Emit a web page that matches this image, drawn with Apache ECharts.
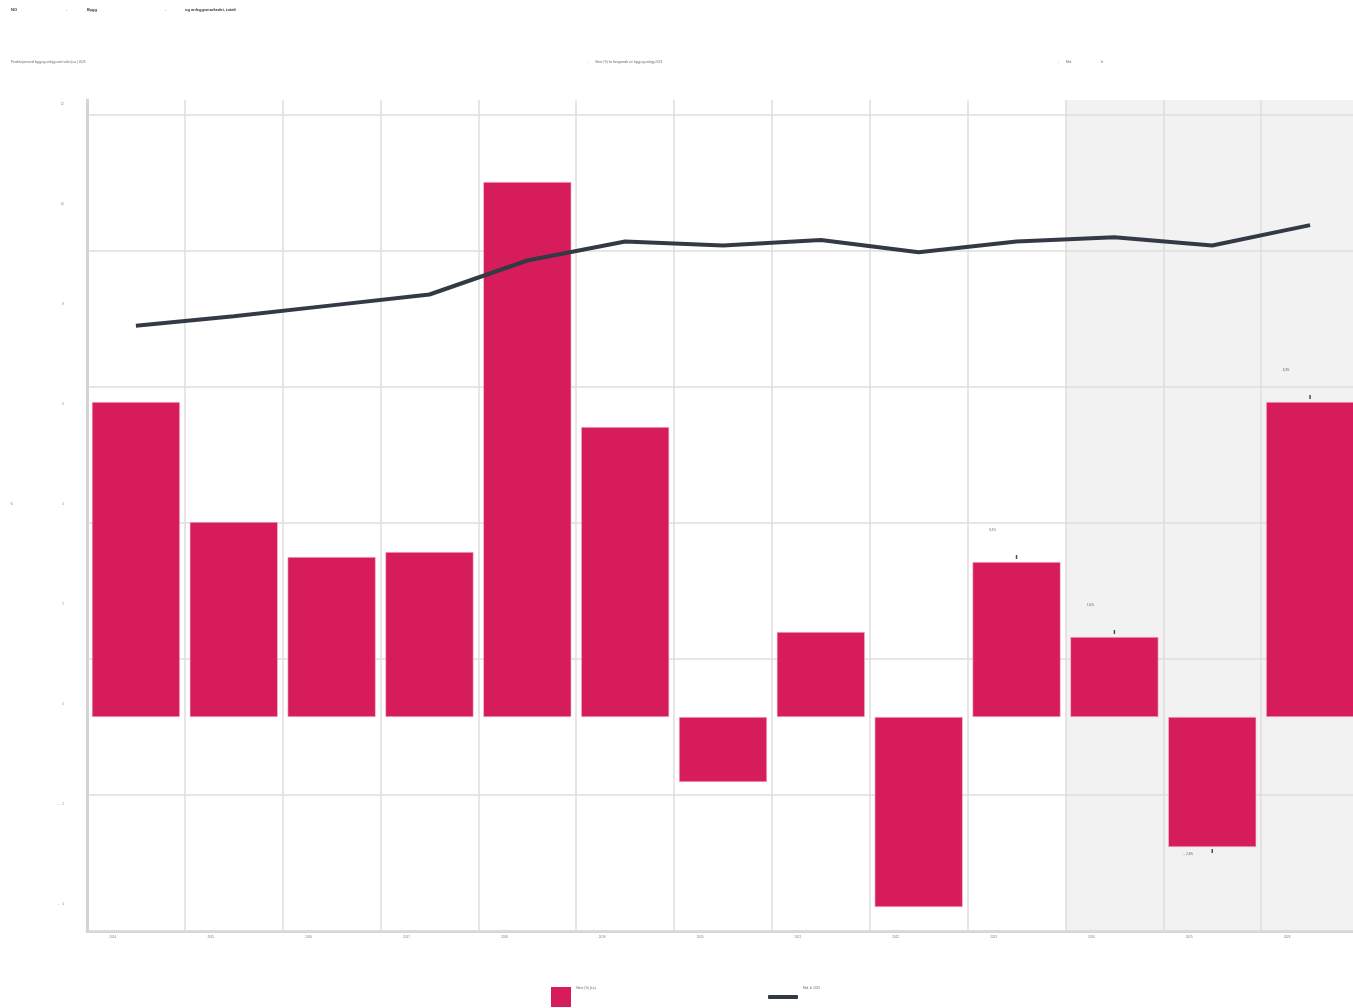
<!DOCTYPE html>
<html>
<head>
<meta charset="utf-8">
<script src="https://cdn.jsdelivr.net/npm/echarts@6/dist/echarts.min.js"></script>
<style>
  html, body { margin: 0; padding: 0; background: #fff; }
  #chart { width: 1353px; height: 1008px; }
</style>
</head>
<body>
<div id="chart"></div>
<script>
// data
const years = ['2014', '2015', '2016', '2017', '2018', '2019', '2020', '2021', '2022', '2023', '2024', '2025', '2026'];
const growth = [6.3, 3.9, 3.2, 3.3, 10.7, 5.8, -1.3, 1.7, -3.8, 3.1, 1.6, -2.6, 6.3];
const prodValue = [445, 452, 460, 468, 493, 507, 504, 508, 499, 507, 510, 504, 519];
const labelledFrom = 9;      // bars with value labels
const forecastFrom = 10;     // shaded years

const red = '#d61c5a';
const dark = '#343a45';
const grid = '#dedede';

const fmt = v => String(v).replace('.', ',') + '%';

const barData = growth.map((v, i) => {
  if (i < labelledFrom) return v;
  return {
    value: v,
    label: {
      show: true,
      position: v >= 0 ? 'top' : 'bottom',
      distance: v >= 0 ? 30 : 6,
      offset: [-24, 0],
      formatter: (v < 0 ? '-  ' : '') + fmt(Math.abs(v)),
      fontSize: 3,
      color: '#555'
    }
  };
});
const tickData = growth.map((v, i) => i >= labelledFrom ? v : '-');

// shaded background for forecast years
const areaColors = years.map((y, i) => i >= forecastFrom ? '#f2f2f2' : 'rgba(0,0,0,0)');

// legend text sits above the icon centre in the reference
const liftText = name => name + '\n \n \n ';

var myChart = echarts.init(document.getElementById('chart'));
var option = {
  animation: false,
  title: [
    { text: 'NO', left: 11, top: 8, padding: 0, textStyle: { fontSize: 4, fontWeight: 'bold', color: '#333' } },
    { text: '-', left: 66, top: 8, padding: 0, textStyle: { fontSize: 4, color: '#999' } },
    { text: 'Bygg', left: 87, top: 8, padding: 0, textStyle: { fontSize: 4, fontWeight: 'bold', color: '#333' } },
    { text: '-', left: 165, top: 8, padding: 0, textStyle: { fontSize: 4, color: '#999' } },
    { text: 'og anleggsmarkedet, totalt', left: 185, top: 8, padding: 0, textStyle: { fontSize: 4, fontWeight: 'bold', color: '#333' } },
    { text: 'Produksjonsverdi bygg og anlegg samt vekst (v.a.) 2023', left: 11, top: 61, padding: 0, textStyle: { fontSize: 3, fontWeight: 'normal', color: '#666' } },
    { text: '-', left: 587, top: 61, padding: 0, textStyle: { fontSize: 3, fontWeight: 'normal', color: '#999' } },
    { text: 'Vekst (%) fra foregående år i bygg og anlegg 2023', left: 595, top: 61, padding: 0, textStyle: { fontSize: 3, fontWeight: 'normal', color: '#666' } },
    { text: '-', left: 1058, top: 61, padding: 0, textStyle: { fontSize: 3, fontWeight: 'normal', color: '#999' } },
    { text: 'Mrd', left: 1066, top: 61, padding: 0, textStyle: { fontSize: 3, fontWeight: 'normal', color: '#666' } },
    { text: 'kr', left: 1101, top: 61, padding: 0, textStyle: { fontSize: 3, fontWeight: 'normal', color: '#666' } }
  ],
  legend: [
    {
      data: [{ name: 'Vekst (%) (v.a.)', icon: 'rect' }],
      left: 551, top: 985, padding: 0,
      itemWidth: 20, itemHeight: 20,
      itemStyle: { borderWidth: 0 },
      formatter: liftText,
      textStyle: { fontSize: 3, lineHeight: 6, color: '#666' }
    },
    {
      data: [{ name: 'Mrd. kr 2023', icon: 'roundRect' }],
      left: 768, top: 985, padding: 0,
      itemWidth: 30, itemHeight: 4,
      formatter: liftText,
      textStyle: { fontSize: 3, lineHeight: 6, color: '#666' }
    }
  ],
  grid: [
    { left: 87, width: 1272, top: 100, bottom: 77, outerBoundsMode: 'none' },
    { left: 87, width: 1272, top: 104, bottom: 104, outerBoundsMode: 'none' }
  ],
  xAxis: [
    {
      type: 'category',
      data: years,
      gridIndex: 0,
      z: 0,
      axisLine: { onZero: false, lineStyle: { color: '#d4d4d4', width: 3 } },
      axisTick: { show: false },
      axisLabel: { fontSize: 3, color: '#777', margin: 5, padding: [0, 46, 0, 0] },
      splitLine: { show: true, lineStyle: { color: grid, width: 1.5 } },
      splitArea: { show: true, areaStyle: { color: areaColors } }
    },
    { type: 'category', data: years, gridIndex: 1, show: false }
  ],
  yAxis: [
    {
      type: 'value',
      gridIndex: 0,
      z: 1,
      min: -4.28, max: 12.34,
      axisLine: { show: true, lineStyle: { color: '#d4d4d4', width: 3 } },
      axisTick: { show: false },
      axisLabel: { show: false },
      splitLine: { show: false }
    },
    {
      type: 'value',
      gridIndex: 0,
      z: 1,
      position: 'right',
      min: 0, max: 611, interval: 100,
      axisLine: { show: false },
      axisTick: { show: false },
      axisLabel: { show: false },
      splitLine: { show: true, showMaxLine: false, lineStyle: { color: grid, width: 1.5 } }
    },
    {
      type: 'value',
      gridIndex: 1,
      min: -4, max: 12, interval: 2,
      name: '%',
      nameLocation: 'middle',
      nameGap: 74,
      nameRotate: 0,
      nameTextStyle: { fontSize: 3, color: '#777' },
      axisLine: { show: false },
      axisTick: { show: false },
      axisLabel: { fontSize: 3, color: '#888', margin: 23, formatter: v => v < 0 ? '-    ' + Math.abs(v) : String(v) },
      splitLine: { show: false }
    }
  ],
  series: [
    {
      name: 'Vekst (%) (v.a.)',
      type: 'bar',
      xAxisIndex: 0, yAxisIndex: 0,
      barCategoryGap: '10%',
      itemStyle: { color: red, borderColor: '#f3c3d3', borderWidth: 0.6 },
      data: barData
    },
    {
      name: 'ticks',
      type: 'scatter',
      xAxisIndex: 0, yAxisIndex: 0,
      symbol: 'rect',
      symbolSize: [1.5, 4],
      itemStyle: { color: '#222' },
      data: tickData.map(v => v === '-' ? v : { value: v, symbolOffset: [0, v >= 0 ? -5 : 4] }),
      z: 5
    },
    {
      name: 'Mrd. kr 2023',
      type: 'line',
      xAxisIndex: 0, yAxisIndex: 1,
      symbol: 'none',
      lineStyle: { color: dark, width: 4 },
      itemStyle: { color: dark },
      data: prodValue,
      z: 4
    }
  ]
};
myChart.setOption(option);
</script>
</body>
</html>
